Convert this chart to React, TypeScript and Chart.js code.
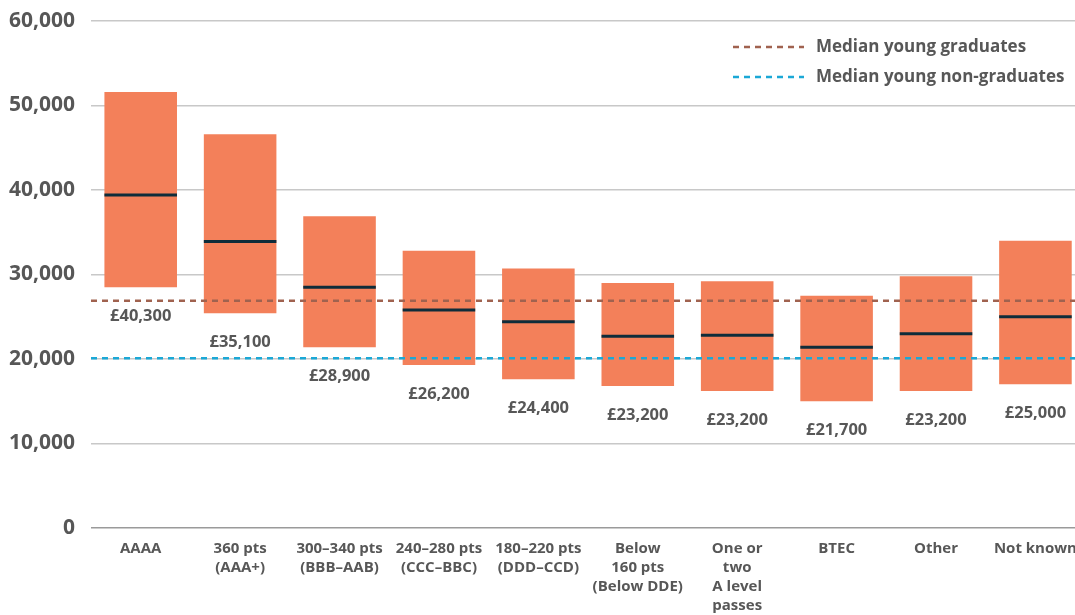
import React, { useEffect, useRef } from "react";
import { Chart, registerables } from "chart.js";

Chart.register(...registerables);

const categories: string[][] = [
  ["AAAA"],
  ["360 pts", "(AAA+)"],
  ["300–340 pts", "(BBB–AAB)"],
  ["240–280 pts", "(CCC–BBC)"],
  ["180–220 pts", "(DDD–CCD)"],
  ["Below", "160 pts", "(Below DDE)"],
  ["One or", "two", "A level", "passes"],
  ["BTEC"],
  ["Other"],
  ["Not known"],
];
const lowValues = [28500, 25400, 21400, 19300, 17600, 16800, 16200, 15000, 16200, 17000];
const highValues = [51600, 46600, 36900, 32800, 30700, 29000, 29200, 27500, 29800, 34000];
const medianLineValues = [39400, 33900, 28500, 25800, 24400, 22700, 22800, 21400, 23000, 25000];
const medianLabels = ["£40,300", "£35,100", "£28,900", "£26,200", "£24,400", "£23,200", "£23,200", "£21,700", "£23,200", "£25,000"];
const graduateMedian = 26900;
const nonGraduateMedian = 20100;
const yMin = 0;
const yMax = 60000;
const yStep = 10000;
const legendLabels = ["Median young graduates", "Median young non-graduates"];

const FONT = "'Open Sans', sans-serif";
const GREY = "#575757";
const ORANGE = "#f3805a";
const BROWN = "#a0624f";
const BLUE = "#1ba8d6";
const NAVY = "#0f2c3a";

const overlayPlugin = {
  id: "overlay",
  afterDatasetsDraw(chart: any) {
    const ctx = chart.ctx;
    const yScale = chart.scales.y;
    const area = chart.chartArea;
    const meta = chart.getDatasetMeta(0);
    ctx.save();
    const refs = [
      { v: graduateMedian, c: BROWN },
      { v: nonGraduateMedian, c: BLUE },
    ];
    refs.forEach((r) => {
      const py = yScale.getPixelForValue(r.v);
      ctx.beginPath();
      ctx.setLineDash([6, 5]);
      ctx.lineWidth = 2.5;
      ctx.strokeStyle = r.c;
      ctx.moveTo(area.left, py);
      ctx.lineTo(area.right, py);
      ctx.stroke();
    });
    ctx.setLineDash([]);
    meta.data.forEach((bar: any, i: number) => {
      const w = bar.width;
      const py = yScale.getPixelForValue(medianLineValues[i]);
      ctx.beginPath();
      ctx.lineWidth = 3;
      ctx.strokeStyle = NAVY;
      ctx.moveTo(bar.x - w / 2, py);
      ctx.lineTo(bar.x + w / 2, py);
      ctx.stroke();
      const lowPx = yScale.getPixelForValue(lowValues[i]);
      ctx.fillStyle = GREY;
      ctx.font = `bold 16.5px ${FONT}`;
      ctx.textAlign = "center";
      ctx.textBaseline = "middle";
      ctx.fillText(medianLabels[i], bar.x, lowPx + 29);
    });
    const colors = [BROWN, BLUE];
    legendLabels.forEach((t, i) => {
      const ly = 39 + i * 30;
      ctx.beginPath();
      ctx.setLineDash([6, 5]);
      ctx.lineWidth = 2.5;
      ctx.strokeStyle = colors[i];
      ctx.moveTo(725, ly);
      ctx.lineTo(796, ly);
      ctx.stroke();
      ctx.setLineDash([]);
      ctx.fillStyle = GREY;
      ctx.font = `bold 17px ${FONT}`;
      ctx.textAlign = "left";
      ctx.textBaseline = "middle";
      ctx.fillText(t, 808, ly);
    });
    ctx.restore();
  },
};

export default function App() {
  const ref = useRef<HTMLCanvasElement>(null);
  useEffect(() => {
    if (!ref.current) return;
    const chart = new Chart(ref.current, {
      type: "bar",
      data: {
        labels: categories,
        datasets: [
          {
            data: lowValues.map((l, i) => [l, highValues[i]]),
            backgroundColor: ORANGE,
            borderWidth: 0,
            barPercentage: 0.73,
            categoryPercentage: 1,
          },
        ],
      },
      options: {
        animation: false,
        responsive: false,
        layout: { padding: { top: 0, right: 1, left: 0, bottom: 0 } },
        plugins: { legend: { display: false }, tooltip: { enabled: false } },
        scales: {
          x: {
            grid: { display: false, drawTicks: false },
            border: { display: false },
            afterFit: (s: any) => {
              s.height = 92;
              s.paddingTop = 0;
              s.paddingBottom = 0;
            },
            ticks: {
              color: GREY,
              font: { family: FONT, size: 15, weight: "bold", lineHeight: 1.27 },
              padding: 11,
              maxRotation: 0,
              autoSkip: false,
            },
          },
          y: {
            min: yMin,
            max: yMax,
            afterFit: (s: any) => {
              s.width = 83;
              s.paddingTop = 13;
              s.paddingBottom = 0;
            },
            grid: {
              drawTicks: false,
              lineWidth: 1.5,
              color: (c: any) => (c.tick && c.tick.value === 0 ? "#9a9a9a" : "#c8c8c8"),
            },
            border: { display: false },
            ticks: {
              stepSize: yStep,
              color: GREY,
              padding: 16,
              font: { family: FONT, size: 21, weight: "bold" },
              callback: (v: any) => Number(v).toLocaleString("en-GB"),
            },
          },
        },
      },
      plugins: [overlayPlugin],
    });
    return () => chart.destroy();
  }, []);
  return (
    <div style={{ position: "fixed", left: 8, top: 8, width: 1080, height: 612, overflow: "hidden" }}>
      <canvas ref={ref} width={1080} height={612} style={{ display: "block" }} />
    </div>
  );
}
